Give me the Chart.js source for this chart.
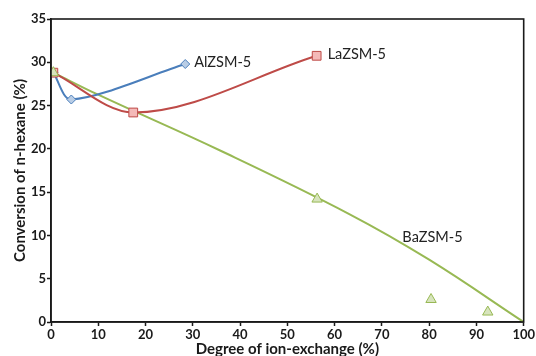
<!DOCTYPE html>
<html><head><meta charset="utf-8">
<script src="https://cdn.jsdelivr.net/npm/chart.js@4"></script>
<style>html,body{margin:0;padding:0;background:#fff}#wrap{width:536px;height:356px}</style>
</head><body><div id="wrap"><canvas id="c" width="536" height="356"></canvas></div>
<script>
// Data
const alX = [0.5, 4.3, 28.4];
const alY = [28.8, 25.7, 29.8];
const laX = [0.5, 17.4, 56.2];
const laY = [28.8, 24.2, 30.75];
const baX = [0.5, 56.3, 80.4, 92.4];
const baY = [28.8, 14.2, 2.6, 1.15];
const baTrendX = [0.5, 10.2, 36, 63, 80, 100];
const baTrendY = [28.8, 26.2, 19.75, 12.5, 7.2, 0];
const seriesNames = ['AlZSM-5', 'LaZSM-5', 'BaZSM-5'];
const xTitle = 'Degree of ion-exchange (%)';
const yTitle = 'Conversion of n-hexane (%)';

const pts = (xs, ys) => xs.map((x, i) => ({x: x, y: ys[i]}));

const boxPlugin = {
  id: 'box',
  afterDraw(chart) {
    const {ctx, chartArea: a} = chart;
    ctx.save();
    ctx.strokeStyle = '#1a1a1a';
    ctx.lineWidth = 1.6;
    ctx.strokeRect(a.left, a.top, a.right - a.left, a.bottom - a.top);
    ctx.restore();
  }
};

const labelPlugin = {
  id: 'labels',
  afterDatasetsDraw(chart) {
    const {ctx} = chart;
    const xs = chart.scales.x, ys = chart.scales.y;
    ctx.save();
    ctx.font = '14.5px Lato';
    ctx.fillStyle = '#222';
    ctx.textBaseline = 'middle';
    ctx.textAlign = 'left';
    ctx.fillText(seriesNames[0], xs.getPixelForValue(alX[2]) + 9, ys.getPixelForValue(alY[2]) - 2);
    ctx.fillText(seriesNames[1], xs.getPixelForValue(laX[2]) + 11, ys.getPixelForValue(laY[2]) - 1);
    ctx.textAlign = 'center';
    ctx.fillText(seriesNames[2], xs.getPixelForValue(80.7), ys.getPixelForValue(9.76));
    ctx.restore();
  }
};

new Chart(document.getElementById('c'), {
  type: 'scatter',
  data: {
    datasets: [
      {
        label: seriesNames[2] + ' trend',
        data: pts(baTrendX, baTrendY),
        showLine: true,
        borderColor: '#98b954',
        borderWidth: 2,
        pointRadius: 0,
        tension: 0.4,
        order: 5
      },
      {
        label: seriesNames[0],
        data: pts(alX, alY),
        showLine: true,
        borderColor: '#4a7ebb',
        borderWidth: 2,
        pointStyle: 'rectRot',
        pointRadius: 4.5,
        pointBackgroundColor: '#b9cde5',
        pointBorderColor: '#4a7ebb',
        pointBorderWidth: 1,
        tension: 0.3,
        order: 4
      },
      {
        label: seriesNames[1],
        data: pts(laX, laY),
        showLine: true,
        borderColor: '#be4b48',
        borderWidth: 2,
        pointStyle: 'rect',
        pointRadius: 6.2,
        pointBackgroundColor: '#f4b9b8',
        pointBorderColor: '#be4b48',
        pointBorderWidth: 1,
        tension: 0.4,
        cubicInterpolationMode: 'monotone',
        order: 3
      },
      {
        label: seriesNames[2],
        data: pts(baX, baY),
        showLine: false,
        pointStyle: 'triangle',
        pointRadius: 6,
        pointBackgroundColor: '#d7e4bd',
        pointBorderColor: '#98b954',
        pointBorderWidth: 1,
        order: 1
      }
    ]
  },
  options: {
    responsive: false,
    animation: false,
    events: [],
    layout: {padding: {left: 0, right: 11, top: 19, bottom: 0}},
    plugins: {legend: {display: false}, tooltip: {enabled: false}},
    scales: {
      x: {
        type: 'linear', min: 0, max: 100,
        afterFit(s) { s.height = 34; },
        ticks: {stepSize: 10, padding: 1, color: '#1a1a1a', font: {family: 'Lato', size: 13, weight: 'bold'}, maxRotation: 0},
        grid: {drawOnChartArea: false, tickLength: 4, color: '#1a1a1a', tickWidth: 1.5},
        border: {color: '#1a1a1a', width: 1.6},
        title: {display: true, text: xTitle, color: '#1a1a1a', padding: {top: 0, bottom: -2}, font: {family: 'Lato', size: 15, weight: 'bold'}}
      },
      y: {
        type: 'linear', min: 0, max: 35,
        afterFit(s) { s.width = 51; },
        ticks: {stepSize: 5, padding: 1, color: '#1a1a1a', font: {family: 'Lato', size: 13, weight: 'bold'}},
        grid: {drawOnChartArea: false, tickLength: 4, color: '#1a1a1a', tickWidth: 1.5},
        border: {color: '#1a1a1a', width: 1.6},
        title: {display: true, text: yTitle, color: '#1a1a1a', padding: {top: 11, bottom: 0}, font: {family: 'Lato', size: 15, weight: 'bold'}}
      }
    }
  },
  plugins: [boxPlugin, labelPlugin]
});
</script>
</body></html>
